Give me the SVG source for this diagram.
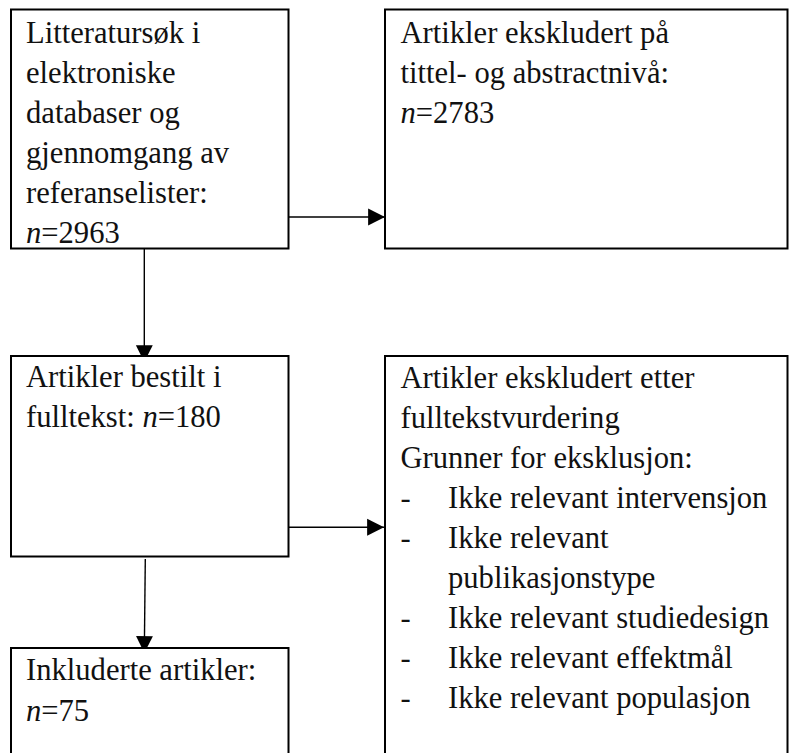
<svg xmlns="http://www.w3.org/2000/svg" width="789" height="753" viewBox="0 0 789 753">
<style>
.box{fill:#fff;stroke:#000;stroke-width:2}
.t{font-family:"Liberation Serif","Times New Roman",serif;font-size:30.6px;fill:#111}
.i{font-style:italic}
.c{stroke:#000;stroke-width:1.4;fill:none}
</style>
<defs>
<marker id="ah" markerUnits="userSpaceOnUse" markerWidth="18" markerHeight="18" viewBox="0 0 16 16" refX="15" refY="8" orient="auto">
<path d="M0,0.5 L15,8 L0,15.5 Z" fill="#000"/>
</marker>
</defs>
<rect width="789" height="753" fill="#fff"/>
<g id="connectors">
<line class="c" x1="289" y1="217" x2="385" y2="217" marker-end="url(#ah)"/>
<line class="c" x1="144.3" y1="249" x2="144.3" y2="362" marker-end="url(#ah)"/>
<line class="c" x1="289" y1="527.3" x2="384" y2="527.3" marker-end="url(#ah)"/>
<line class="c" x1="145.3" y1="559" x2="144.3" y2="653" marker-end="url(#ah)"/>
</g>
<g id="node-search">
<rect class="box" x="11" y="9.5" width="277.5" height="239"/>
<text class="t" x="26" y="43">Litteratursøk i</text>
<text class="t" x="26" y="83">elektroniske</text>
<text class="t" x="26" y="123">databaser og</text>
<text class="t" x="26" y="163">gjennomgang av</text>
<text class="t" x="26" y="203">referanselister:</text>
<text class="t" x="26" y="243"><tspan class="i">n</tspan>=2963</text>
</g>
<g id="node-excluded-title">
<rect class="box" x="385" y="9.5" width="402.5" height="239"/>
<text class="t" x="400.5" y="43">Artikler ekskludert på</text>
<text class="t" x="400.5" y="83">tittel- og abstractnivå:</text>
<text class="t" x="400.5" y="123"><tspan class="i">n</tspan>=2783</text>
</g>
<g id="node-ordered">
<rect class="box" x="11" y="356" width="277.5" height="200.5"/>
<text class="t" x="26" y="387">Artikler bestilt i</text>
<text class="t" x="26" y="427">fulltekst: <tspan class="i">n</tspan>=180</text>
</g>
<g id="node-excluded-fulltext">
<rect class="box" x="385" y="356" width="402.5" height="420"/>
<text class="t" x="400.5" y="388">Artikler ekskludert etter</text>
<text class="t" x="400.5" y="428">fulltekstvurdering</text>
<text class="t" x="400.5" y="468">Grunner for eksklusjon:</text>
<text class="t" x="400.5" y="508">-</text><text class="t" x="448" y="508">Ikke relevant intervensjon</text>
<text class="t" x="400.5" y="548">-</text><text class="t" x="448" y="548">Ikke relevant</text>
<text class="t" x="448" y="588">publikasjonstype</text>
<text class="t" x="400.5" y="628">-</text><text class="t" x="448" y="628">Ikke relevant studiedesign</text>
<text class="t" x="400.5" y="668">-</text><text class="t" x="448" y="668">Ikke relevant effektmål</text>
<text class="t" x="400.5" y="708">-</text><text class="t" x="448" y="708">Ikke relevant populasjon</text>
</g>
<g id="node-included">
<rect class="box" x="11" y="648" width="277.5" height="130"/>
<text class="t" x="26" y="680">Inkluderte artikler:</text>
<text class="t" x="26" y="721"><tspan class="i">n</tspan>=75</text>
</g>
</svg>
